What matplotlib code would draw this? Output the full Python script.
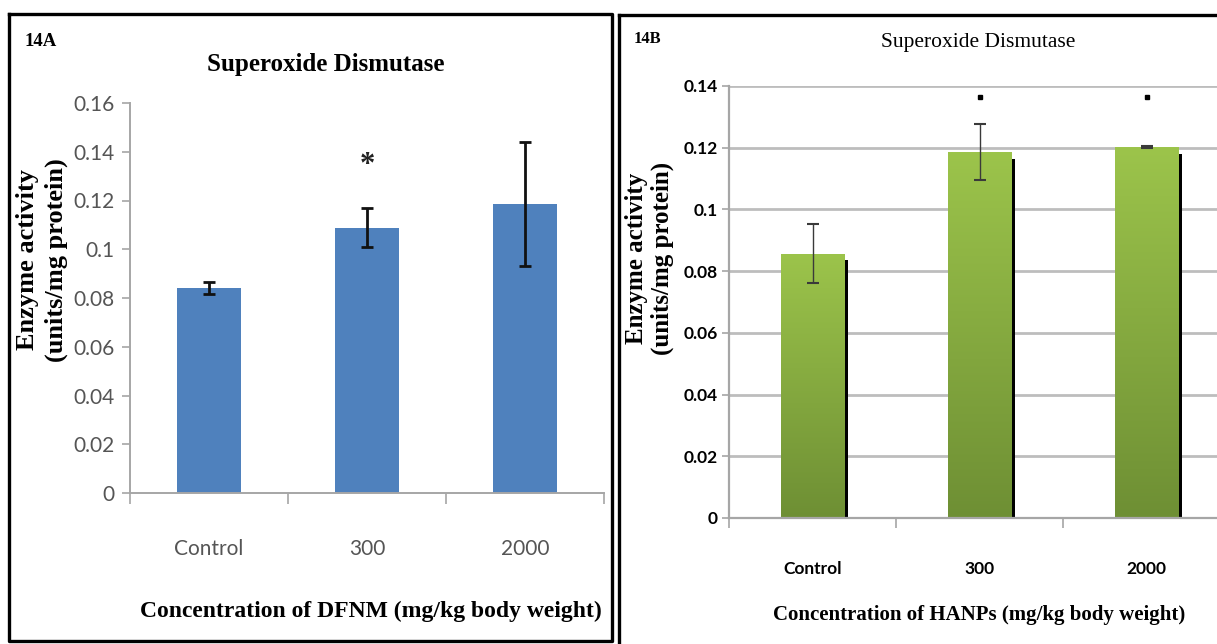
import numpy as np
import matplotlib
matplotlib.use("Agg")
import matplotlib.pyplot as plt
from matplotlib.lines import Line2D
from matplotlib.patches import Rectangle
from matplotlib.colors import LinearSegmentedColormap

# ---- data ----
categories = ["Control", "300", "2000"]

sod_dfnm = [0.0840, 0.1088, 0.1186]
sod_dfnm_err = [0.0024, 0.0080, 0.0253]
dfnm_ticks = [0, 0.02, 0.04, 0.06, 0.08, 0.1, 0.12, 0.14, 0.16]
dfnm_ticklabels = ["0", "0.02", "0.04", "0.06", "0.08", "0.1", "0.12", "0.14", "0.16"]

sod_hanp = [0.0857, 0.1186, 0.1202]
sod_hanp_err = [0.0096, 0.0090, 0.0002]
hanp_ticks = [0, 0.02, 0.04, 0.06, 0.08, 0.1, 0.12, 0.14]
hanp_ticklabels = ["0", "0.02", "0.04", "0.06", "0.08", "0.1", "0.12", "0.14"]

W, H = 1217, 644
fig = plt.figure(figsize=(W / 100, H / 100), dpi=100)
fig.patch.set_facecolor("white")

SERIF = "Liberation Serif"
SANS = "Lato"


def fx(px):
    return px / W


def fy(py):
    return 1 - py / H


# ---- panel frames ----
def frame_line(xs, ys):
    fig.add_artist(Line2D([fx(x) for x in xs], [fy(y) for y in ys],
                          color="black", lw=2.4, solid_capstyle="projecting"))


frame_line([9, 612, 612, 9, 9], [14, 14, 641, 641, 14])
frame_line([619, 619], [H + 5, 15])
frame_line([619, W + 5], [15, 15])

# ---- panel A: DFNM ----
axA = fig.add_axes([fx(130), fy(493), 474 / W, 390 / H])
x = np.arange(len(categories))
axA.bar(x, sod_dfnm, width=0.40, color="#4F81BD", zorder=2)
axA.errorbar(x, sod_dfnm, yerr=sod_dfnm_err, fmt="none", ecolor="#111111",
             elinewidth=2.0, capsize=4, capthick=2.0, zorder=3)
axA.text(1, 0.1345, "*", ha="center", va="center", fontsize=22,
         fontweight="bold", family=SERIF, color="#222222")
axA.set_xlim(-0.5, 2.5)
axA.set_ylim(0, 0.16)
axA.set_yticks(dfnm_ticks)
axA.set_yticklabels(dfnm_ticklabels)
axA.set_xticks(x)
axA.set_xticklabels(categories)
axA.set_xticks([-0.5, 0.5, 1.5, 2.5], minor=True)
axA.tick_params(axis="x", which="major", length=0, pad=33,
                labelsize=15, labelcolor="#555555")
axA.tick_params(axis="x", which="minor", length=8, width=1.2, color="#A6A6A6")
axA.tick_params(axis="y", which="major", length=6, width=1.2, color="#A6A6A6",
                labelsize=15, labelcolor="#555555", pad=5)
for lab in axA.get_xticklabels() + axA.get_yticklabels():
    lab.set_family(SANS)
for side in ["top", "right"]:
    axA.spines[side].set_visible(False)
for side in ["left", "bottom"]:
    axA.spines[side].set_color("#A6A6A6")
    axA.spines[side].set_linewidth(1.4)

fig.text(fx(326), fy(64), "Superoxide Dismutase", ha="center", va="center",
         family=SERIF, fontweight="bold", fontsize=18)
fig.text(fx(25), fy(41), "14A", ha="left", va="center",
         family=SERIF, fontweight="bold", fontsize=13.5)
fig.text(fx(371), fy(611), "Concentration of DFNM (mg/kg body weight)",
         ha="center", va="center", family=SERIF, fontweight="bold", fontsize=17)
fig.text(fx(28), fy(260), "Enzyme activity", ha="center", va="center",
         rotation=90, family=SERIF, fontweight="bold", fontsize=19)
fig.text(fx(56), fy(260), "(units/mg protein)", ha="center", va="center",
         rotation=90, family=SERIF, fontweight="bold", fontsize=19)

# ---- panel B: HANPs ----
axB = fig.add_axes([fx(729), fy(518), 501 / W, 432 / H])
bw = 0.38
bars = axB.bar(x, sod_hanp, width=bw, color="none", zorder=2)
green = LinearSegmentedColormap.from_list("grn", ["#6E8F34", "#9CC44B"])
grad = np.linspace(0, 1, 256).reshape(-1, 1)
for b, v in zip(bars, sod_hanp):
    x0 = b.get_x()
    im = axB.imshow(grad, extent=[x0, x0 + bw, 0, v], origin="lower",
                    cmap=green, aspect="auto", zorder=2)
    clip = Rectangle((x0, 0), bw, v, transform=axB.transData)
    im.set_clip_path(clip)
# dark edge shading on the right of each bar
axB.bar(x + bw / 2 + 0.014, np.array(sod_hanp) - 0.0022, width=0.018,
        color="black", zorder=2)
axB.errorbar(x, sod_hanp, yerr=sod_hanp_err, fmt="none", ecolor="#3A3A3A",
             elinewidth=1.0, capsize=4, capthick=1.5, zorder=3)
axB.plot([1, 2], [0.1365, 0.1365], ls="none", marker="s", ms=2.8,
         color="black", zorder=3)
axB.set_xlim(-0.5, 2.5)
axB.set_ylim(0, 0.14)
axB.set_yticks(hanp_ticks)
axB.set_yticklabels(hanp_ticklabels)
axB.grid(axis="y", color="#BDBDBD", lw=2.0, zorder=0)
axB.set_axisbelow(True)
axB.set_xticks(x)
axB.set_xticklabels(categories)
axB.set_xticks([-0.5, 0.5, 1.5, 2.5], minor=True)
axB.tick_params(axis="x", which="major", length=0, pad=31,
                labelsize=12.5, labelcolor="black")
axB.tick_params(axis="x", which="minor", length=7, width=1.2, color="#A6A6A6")
axB.tick_params(axis="y", which="major", length=5, width=1.2, color="#A6A6A6",
                labelsize=12.5, labelcolor="black", pad=3)
for lab in axB.get_xticklabels() + axB.get_yticklabels():
    lab.set_family(SANS)
    lab.set_fontweight("bold")
for side in ["top", "right"]:
    axB.spines[side].set_visible(False)
for side in ["left", "bottom"]:
    axB.spines[side].set_color("#A6A6A6")
    axB.spines[side].set_linewidth(1.6)

fig.text(fx(978), fy(43), "Superoxide Dismutase", ha="center", va="center",
         family=SERIF, fontsize=15.5)
fig.text(fx(634), fy(39), "14B", ha="left", va="center",
         family=SERIF, fontweight="bold", fontsize=12)
fig.text(fx(979), fy(615), "Concentration of HANPs (mg/kg body weight)",
         ha="center", va="center", family=SERIF, fontweight="bold", fontsize=15)
fig.text(fx(636), fy(258), "Enzyme activity", ha="center", va="center",
         rotation=90, family=SERIF, fontweight="bold", fontsize=18)
fig.text(fx(662), fy(258), "(units/mg protein)", ha="center", va="center",
         rotation=90, family=SERIF, fontweight="bold", fontsize=18)

fig.savefig("out.png", dpi=100, facecolor="white")
